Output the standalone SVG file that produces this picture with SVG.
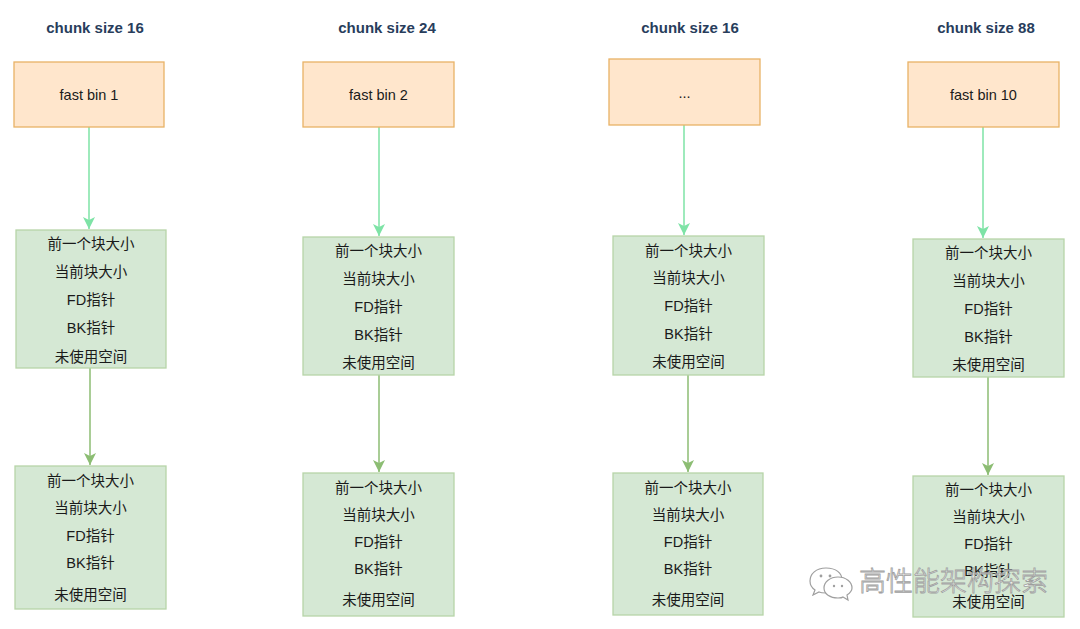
<svg xmlns="http://www.w3.org/2000/svg" width="1080" height="629" viewBox="0 0 1080 629">
<defs>
<style>
.title{font-family:"Liberation Sans",Arial,sans-serif;font-size:15px;font-weight:bold;fill:#283d5c;text-anchor:middle;dominant-baseline:central}
.bin{fill:#ffe6cc;stroke:#e9b266;stroke-width:1.3}
.chunk{fill:#d5e8d4;stroke:#b7d4a8;stroke-width:1.3}
.lbl{font-family:"Liberation Sans","Noto Sans CJK SC",sans-serif;font-size:14.5px;fill:#1a1a1a;text-anchor:middle;dominant-baseline:central}
.c1{stroke:#7ee3a6;stroke-width:1.5;fill:none;marker-end:url(#a1)}
.c2{stroke:#8cbd73;stroke-width:1.5;fill:none;marker-end:url(#a2)}
.wm{font-family:"Noto Sans CJK SC",sans-serif;font-size:27px;font-weight:300;fill:#ffffff;stroke:#9a9a9a;stroke-width:0.8;text-anchor:start}
</style>
<marker id="a1" markerUnits="userSpaceOnUse" markerWidth="12" markerHeight="12" refX="10" refY="5" orient="auto" viewBox="0 0 10 10">
<path d="M0,0 L10,5 L0,10 L2.5,5 Z" fill="#7ee3a6"/>
</marker>
<marker id="a2" markerUnits="userSpaceOnUse" markerWidth="12" markerHeight="12" refX="10" refY="5" orient="auto" viewBox="0 0 10 10">
<path d="M0,0 L10,5 L0,10 L2.5,5 Z" fill="#8cbd73"/>
</marker>
</defs>
<rect width="1080" height="629" fill="#ffffff"/>

<g id="titles">
<text class="title" x="95" y="27">chunk size 16</text>
<text class="title" x="387" y="27">chunk size 24</text>
<text class="title" x="690" y="27">chunk size 16</text>
<text class="title" x="986" y="27">chunk size 88</text>
</g>

<g id="connectors">
<line class="c1" x1="89" y1="127" x2="89" y2="229"/>
<line class="c2" x1="90" y1="368" x2="90" y2="465"/>
<line class="c1" x1="379" y1="127" x2="379" y2="236"/>
<line class="c2" x1="379" y1="375" x2="379" y2="472"/>
<line class="c1" x1="684" y1="125" x2="684" y2="235"/>
<line class="c2" x1="688" y1="375" x2="688" y2="472"/>
<line class="c1" x1="983" y1="127" x2="983" y2="238"/>
<line class="c2" x1="988" y1="377" x2="988" y2="475"/>
</g>

<g id="bin1">
<rect class="bin" x="14" y="62" width="150" height="65"/>
<text class="lbl" x="89" y="95">fast bin 1</text>
</g>
<g id="bin2">
<rect class="bin" x="303" y="62" width="151" height="65"/>
<text class="lbl" x="378.5" y="95">fast bin 2</text>
</g>
<g id="bin3">
<rect class="bin" x="609" y="59" width="151" height="66"/>
<text class="lbl" x="684.5" y="93">...</text>
</g>
<g id="bin10">
<rect class="bin" x="908" y="62" width="151" height="65"/>
<text class="lbl" x="983.5" y="95">fast bin 10</text>
</g>

<g id="chunk1a">
<rect class="chunk" x="16" y="230" width="150" height="138"/>
<text class="lbl" x="91" y="244">前一个块大小</text>
<text class="lbl" x="91" y="272">当前块大小</text>
<text class="lbl" x="91" y="300">FD指针</text>
<text class="lbl" x="91" y="328">BK指针</text>
<text class="lbl" x="91" y="357">未使用空间</text>
</g>
<g id="chunk1b">
<rect class="chunk" x="15" y="466" width="151" height="143"/>
<text class="lbl" x="90.5" y="481">前一个块大小</text>
<text class="lbl" x="90.5" y="508">当前块大小</text>
<text class="lbl" x="90.5" y="536">FD指针</text>
<text class="lbl" x="90.5" y="563">BK指针</text>
<text class="lbl" x="90.5" y="595">未使用空间</text>
</g>

<g id="chunk2a">
<rect class="chunk" x="303" y="237" width="151" height="138"/>
<text class="lbl" x="378.5" y="251">前一个块大小</text>
<text class="lbl" x="378.5" y="279">当前块大小</text>
<text class="lbl" x="378.5" y="307">FD指针</text>
<text class="lbl" x="378.5" y="335">BK指针</text>
<text class="lbl" x="378.5" y="363">未使用空间</text>
</g>
<g id="chunk2b">
<rect class="chunk" x="303" y="473" width="151" height="143"/>
<text class="lbl" x="378.5" y="488">前一个块大小</text>
<text class="lbl" x="378.5" y="515">当前块大小</text>
<text class="lbl" x="378.5" y="542">FD指针</text>
<text class="lbl" x="378.5" y="569">BK指针</text>
<text class="lbl" x="378.5" y="600">未使用空间</text>
</g>

<g id="chunk3a">
<rect class="chunk" x="613" y="236" width="151" height="139"/>
<text class="lbl" x="688.5" y="251">前一个块大小</text>
<text class="lbl" x="688.5" y="278">当前块大小</text>
<text class="lbl" x="688.5" y="306">FD指针</text>
<text class="lbl" x="688.5" y="334">BK指针</text>
<text class="lbl" x="688.5" y="362">未使用空间</text>
</g>
<g id="chunk3b">
<rect class="chunk" x="613" y="473" width="150" height="142"/>
<text class="lbl" x="688" y="488">前一个块大小</text>
<text class="lbl" x="688" y="515">当前块大小</text>
<text class="lbl" x="688" y="542">FD指针</text>
<text class="lbl" x="688" y="569">BK指针</text>
<text class="lbl" x="688" y="600">未使用空间</text>
</g>

<g id="chunk4a">
<rect class="chunk" x="913" y="239" width="151" height="138"/>
<text class="lbl" x="988.5" y="253">前一个块大小</text>
<text class="lbl" x="988.5" y="281">当前块大小</text>
<text class="lbl" x="988.5" y="309">FD指针</text>
<text class="lbl" x="988.5" y="337">BK指针</text>
<text class="lbl" x="988.5" y="365">未使用空间</text>
</g>
<g id="chunk4b">
<rect class="chunk" x="913" y="476" width="151" height="141"/>
<text class="lbl" x="988.5" y="490">前一个块大小</text>
<text class="lbl" x="988.5" y="517">当前块大小</text>
<text class="lbl" x="988.5" y="544">FD指针</text>
<text class="lbl" x="988.5" y="571">BK指针</text>
<text class="lbl" x="988.5" y="602">未使用空间</text>
</g>

<g id="watermark" opacity="0.95">
<g fill="#ffffff" stroke="#9a9a9a" stroke-width="1.2">
<path d="M826,568 C816,568 810,574 810,581 C810,585 812,588 815,590 L813,595 L819,592 C821,593 823,593 826,593 C836,593 842,587 842,580 C842,573 836,568 826,568 Z"/>
<path d="M838,577 C830,577 824,582 824,588 C824,594 830,598 838,598 C840,598 842,598 843,597 L848,600 L847,595 C850,593 852,591 852,588 C852,582 846,577 838,577 Z"/>
</g>
<g fill="#9a9a9a">
<circle cx="821" cy="576" r="1.4"/>
<circle cx="830" cy="576" r="1.4"/>
<circle cx="834" cy="586" r="1.2"/>
<circle cx="842" cy="586" r="1.2"/>
</g>
<text class="wm" x="859" y="591">高性能架构探索</text>
</g>
</svg>
